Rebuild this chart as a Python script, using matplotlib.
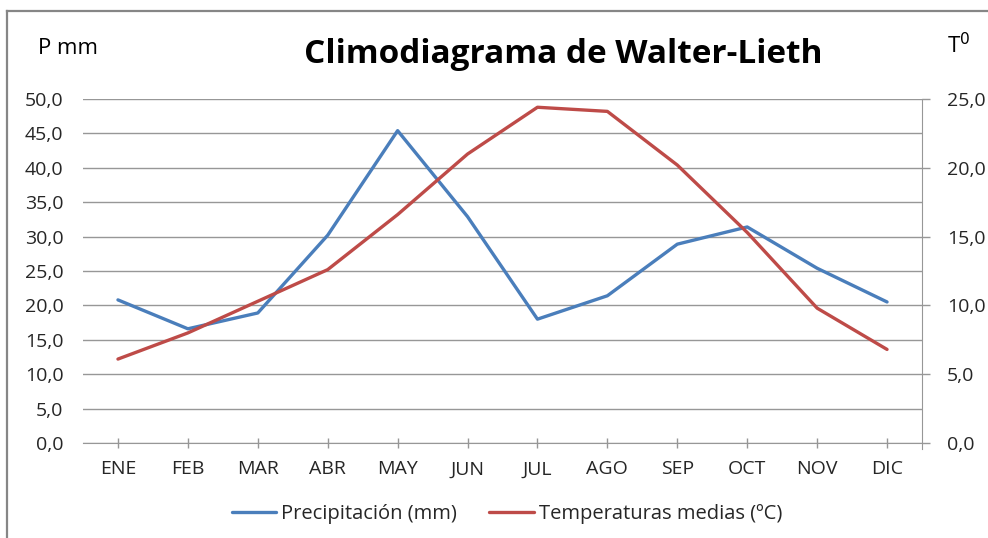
import matplotlib.pyplot as plt
from matplotlib.lines import Line2D

# monthly data
months = ["ENE", "FEB", "MAR", "ABR", "MAY", "JUN",
          "JUL", "AGO", "SEP", "OCT", "NOV", "DIC"]
precip_mm = [20.8, 16.6, 18.9, 30.2, 45.4, 32.9,
             18.0, 21.4, 28.9, 31.4, 25.4, 20.5]
temp_c = [6.1, 8.0, 10.3, 12.6, 16.6, 21.0,
          24.4, 24.1, 20.2, 15.3, 9.8, 6.8]

left_ticks = [0, 5, 10, 15, 20, 25, 30, 35, 40, 45, 50]
right_ticks = [0, 5, 10, 15, 20, 25]

blue = "#4A7EBB"
red = "#BE4B48"
grid_col = "#979797"
txt = "#262626"

plt.rcParams['font.family'] = ['Open Sans', 'DejaVu Sans']

W, H = 988, 538
fig = plt.figure(figsize=(W / 100, H / 100), dpi=100)

# chart border (only top and left visible in the crop)
fig.add_artist(Line2D([7 / W, 1], [1 - 11 / H, 1 - 11 / H], color="#868686", lw=1.6))
fig.add_artist(Line2D([7 / W, 7 / W], [0, 1 - 11 / H], color="#868686", lw=1.6))

ax = fig.add_axes([83 / W, (H - 443) / H, (922 - 83) / W, (443 - 99) / H])
ax2 = ax.twinx()

x = range(len(months))
l1, = ax.plot(x, precip_mm, color=blue, lw=2.4, solid_capstyle='round')
l2, = ax2.plot(x, temp_c, color=red, lw=2.4, solid_capstyle='round')

ax.set_xlim(-0.5, len(months) - 0.5)
ax.set_ylim(0, 50)
ax2.set_ylim(0, 25)

def fmt(v):
    return f"{v:.1f}".replace('.', ',')

ax.set_yticks(left_ticks)
ax.set_yticklabels([fmt(v) for v in left_ticks])
ax2.set_yticks(right_ticks)
ax2.set_yticklabels([fmt(v) for v in right_ticks])
ax.set_xticks(list(x))
ax.set_xticklabels(months)

ax.grid(axis='y', color=grid_col, lw=1.0)
ax.set_axisbelow(True)

for a in (ax, ax2):
    for s in a.spines.values():
        s.set_visible(False)
ax.spines['bottom'].set_visible(True)
ax.spines['bottom'].set_color(grid_col)
ax2.spines['right'].set_visible(True)
ax2.spines['right'].set_color(grid_col)
ax2.spines['right'].set_bounds(-0.4, 25)

ax.tick_params(axis='y', length=0, pad=14, labelsize=14, labelcolor=txt)
ax.tick_params(axis='x', direction='inout', length=7, width=1, color=grid_col,
               pad=9, labelsize=14, labelcolor=txt)
ax2.tick_params(axis='y', direction='out', length=6, width=1, color=grid_col,
                pad=12, labelsize=14, labelcolor=txt)

fig.text(563 / W, 1 - 55 / H, "Climodiagrama de Walter-Lieth", ha='center', va='center',
         fontsize=24, fontweight='bold', color='black')
fig.text(38 / W, 1 - 49 / H, "P mm", ha='left', va='center', fontsize=16, color='black')
fig.text(947 / W, 1 - 46 / H, "T$^{0}$", ha='left', va='center', fontsize=16, color='black')

fig.legend([l1, l2], ["Precipitación (mm)", "Temperaturas medias (ºC)"],
           loc='center', bbox_to_anchor=(507 / W, 1 - 514 / H), ncol=2, frameon=False,
           fontsize=14.5, handlelength=2.2, handletextpad=0.25, columnspacing=1.6,
           labelcolor=txt)

fig.savefig("out.png", dpi=100)
